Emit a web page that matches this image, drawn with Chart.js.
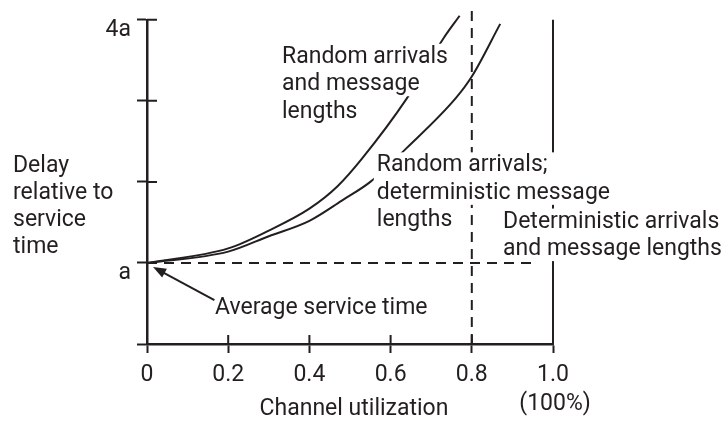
<!DOCTYPE html>
<html>
<head>
<meta charset="utf-8">
<script src="https://cdn.jsdelivr.net/npm/chart.js@4.4.1/dist/chart.umd.min.js"></script>
<style>
  html, body { margin: 0; padding: 0; background: #ffffff; }
  #wrap { width: 723px; height: 421px; }
</style>
</head>
<body>
<div id="wrap"><canvas id="c" width="723" height="421"></canvas></div>
<script>
// ---------- data ----------
const xTickValues = [0, 0.2, 0.4, 0.6, 0.8, 1.0];
const xTickLabels = ['0', '0.2', '0.4', '0.6', '0.8', '1.0'];
const yTickValues = [0, 1, 2, 3, 4];
const yTickLabels = ['', 'a', '', '', '4a'];

// Random arrivals and message lengths
const utilRandom  = [0, 0.2, 0.3, 0.4, 0.47, 0.53, 0.64, 0.73, 0.77];
const delayRandom = [1.0, 1.18, 1.40, 1.67, 1.95, 2.29, 3.03, 3.77, 4.05];
// Random arrivals; deterministic message lengths
const utilRandDet  = [0, 0.2, 0.3, 0.4, 0.48, 0.55, 0.64, 0.76, 0.8, 0.87];
const delayRandDet = [1.0, 1.14, 1.33, 1.52, 1.77, 2.0, 2.42, 3.03, 3.3, 3.95];
// Deterministic arrivals and message lengths
const utilDet  = [1.0, 1.0];
const delayDet = [0, 4];
// Average service time reference (dashed)
const utilService  = [0, 0.95];
const delayService = [1, 1];
// Utilization 0.8 marker (dashed)
const utilMarker  = [0.8, 0.8];
const delayMarker = [0, 4.12];

const INK = '#231f20';
const FONT = 'Roboto';
const FS = 23;
const LINE = 27.5;

function pts(xs, ys) { return xs.map((x, i) => ({ x: x, y: ys[i] })); }

// label blocks: anchor in data units (left / baseline of first line)
const labels = [
  { lines: ['Random arrivals', 'and message', 'lengths'], x: 0.3325, y: 3.47, maskGroups: [[0, 1], [2]] },
  { lines: ['Random arrivals;', 'deterministic message', 'lengths'], x: 0.566, y: 2.13, maskGroups: [[0, 1], [2]] },
  { lines: ['Deterministic arrivals', 'and message lengths'], x: 0.877, y: 1.436, maskGroups: [[0, 1]] }
];

const annot = {
  id: 'annot',
  afterDatasetsDraw(chart) {
    const ctx = chart.ctx;
    const xs = chart.scales.x, ys = chart.scales.y;
    const area = chart.chartArea;
    ctx.save();
    ctx.font = FS + 'px ' + FONT;
    ctx.textBaseline = 'alphabetic';
    const asc = FS * 0.74, desc = FS * 0.26;

    // masks + labels
    labels.forEach(lb => {
      const left = xs.getPixelForValue(lb.x);
      const base = ys.getPixelForValue(lb.y);
      lb.maskGroups.forEach(g => {
        let w = 0;
        g.forEach(i => { w = Math.max(w, ctx.measureText(lb.lines[i]).width); });
        const top = base + g[0] * LINE - asc - 2;
        const bot = base + g[g.length - 1] * LINE + desc;
        ctx.fillStyle = '#ffffff';
        ctx.fillRect(left - 3, top, w + 6, bot - top);
      });
      ctx.fillStyle = INK;
      ctx.textAlign = 'left';
      lb.lines.forEach((t, i) => ctx.fillText(t, left, base + i * LINE));
    });

    ctx.fillStyle = INK;
    // y-axis title
    const yt = ['Delay', 'relative to', 'service', 'time'];
    const ytx = xs.getPixelForValue(-0.33), yty = ys.getPixelForValue(2.12);
    ctx.textAlign = 'left';
    yt.forEach((t, i) => ctx.fillText(t, ytx, yty + i * 26.8));

    // x-axis title and 100%
    ctx.textAlign = 'center';
    ctx.fillText('Channel utilization', (area.left + area.right) / 2 + 4, ys.getPixelForValue(-0.871));
    ctx.fillText('(100%)', xs.getPixelForValue(1.005), ys.getPixelForValue(-0.81));

    // average service time + arrow
    ctx.textAlign = 'left';
    ctx.fillText('Average service time', xs.getPixelForValue(0.1675), ys.getPixelForValue(0.37));
    const tx = xs.getPixelForValue(0.015), ty = ys.getPixelForValue(0.95);
    const sx = xs.getPixelForValue(0.166), sy = ys.getPixelForValue(0.54);
    const ang = Math.atan2(ty - sy, tx - sx);
    ctx.strokeStyle = INK; ctx.lineWidth = 2;
    ctx.beginPath();
    ctx.moveTo(sx, sy);
    ctx.lineTo(tx - 8 * Math.cos(ang), ty - 8 * Math.sin(ang));
    ctx.stroke();
    ctx.beginPath();
    ctx.moveTo(tx, ty);
    ctx.lineTo(tx - 13 * Math.cos(ang) + 5 * Math.sin(ang), ty - 13 * Math.sin(ang) - 5 * Math.cos(ang));
    ctx.lineTo(tx - 13 * Math.cos(ang) - 5 * Math.sin(ang), ty - 13 * Math.sin(ang) + 5 * Math.cos(ang));
    ctx.closePath();
    ctx.fill();

    // inner halves of crossing tick marks
    ctx.lineWidth = 2;
    ctx.beginPath();
    xTickValues.forEach(v => {
      if (v === 0) return;
      const px = xs.getPixelForValue(v);
      ctx.moveTo(px, area.bottom); ctx.lineTo(px, area.bottom - 9);
    });
    yTickValues.forEach(v => {
      if (v === 0) return;
      const py = ys.getPixelForValue(v);
      ctx.moveTo(area.left, py); ctx.lineTo(area.left + 10, py);
    });
    ctx.stroke();
    ctx.restore();
  }
};

const lineStyle = { borderColor: INK, borderWidth: 2, pointRadius: 0, fill: false, clip: false };

new Chart(document.getElementById('c'), {
  type: 'scatter',
  data: {
    datasets: [
      Object.assign({ label: 'Random arrivals and message lengths', data: pts(utilRandom, delayRandom), showLine: true, cubicInterpolationMode: 'monotone' }, lineStyle),
      Object.assign({ label: 'Random arrivals; deterministic message lengths', data: pts(utilRandDet, delayRandDet), showLine: true, cubicInterpolationMode: 'monotone' }, lineStyle),
      Object.assign({ label: 'Deterministic arrivals and message lengths', data: pts(utilDet, delayDet), showLine: true }, lineStyle),
      Object.assign({ label: 'Average service time', data: pts(utilService, delayService), showLine: true, borderDash: [10, 7] }, lineStyle),
      Object.assign({ label: 'Utilization 0.8', data: pts(utilMarker, delayMarker), showLine: true, borderDash: [10, 7] }, lineStyle)
    ]
  },
  options: {
    responsive: false,
    animation: false,
    layout: { padding: { left: 87, right: 170, top: 18, bottom: 0 } },
    plugins: { legend: { display: false }, tooltip: { enabled: false } },
    scales: {
      x: {
        type: 'linear', min: 0, max: 1,
        afterBuildTicks: s => { s.ticks = xTickValues.map(v => ({ value: v })); },
        afterFit: s => { s.height = 77; },
        ticks: {
          callback: v => xTickLabels[xTickValues.indexOf(v)],
          color: INK, font: { family: FONT, size: FS }, padding: 8, maxRotation: 0, autoSkip: false
        },
        grid: { drawOnChartArea: false, drawTicks: true, tickLength: 9, tickWidth: 2, tickColor: INK },
        border: { display: true, color: INK, width: 2.5 }
      },
      y: {
        type: 'linear', min: 0, max: 4,
        afterBuildTicks: s => { s.ticks = yTickValues.map(v => ({ value: v })); },
        afterFit: s => { s.width = 60; },
        ticks: {
          callback: v => yTickLabels[yTickValues.indexOf(v)],
          color: INK, font: { family: FONT, size: FS }, padding: 6, labelOffset: 10, autoSkip: false
        },
        grid: { drawOnChartArea: false, drawTicks: true, tickLength: 10, tickWidth: 2, tickColor: INK },
        border: { display: true, color: INK, width: 2.5 }
      }
    }
  },
  plugins: [annot]
});
</script>
</body>
</html>
